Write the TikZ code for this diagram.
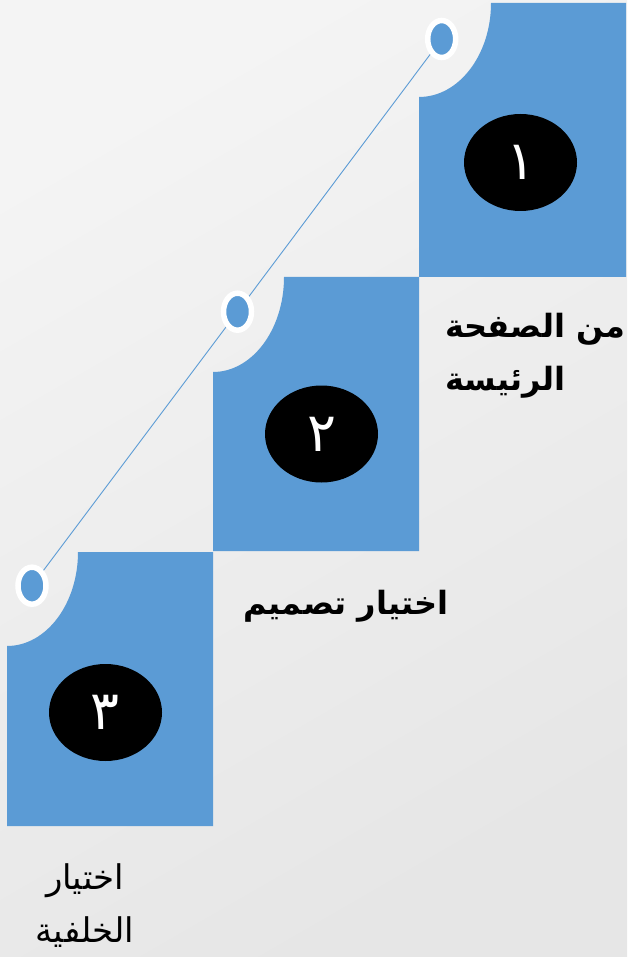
\documentclass[tikz,border=0pt]{standalone}
\usepackage{fontspec}
\usetikzlibrary{shapes.geometric}
\TeXXeTstate=1
\newfontfamily\arabicfont[Script=Arabic]{DejaVu Sans}
\definecolor{stepblue}{HTML}{5B9BD5}
\definecolor{bglight}{HTML}{F4F4F4}
\definecolor{bgdark}{HTML}{E6E6E6}
\tikzset{
  stepbox/.style={fill=stepblue},
  numblob/.style={ellipse, fill=black, minimum width=113pt, minimum height=97pt, inner sep=0pt, text=white, font=\arabicfont\fontsize{54}{60}\selectfont},
  ring/.style={ellipse, draw=white, line width=5.5pt, fill=stepblue, minimum width=28pt, minimum height=37pt, inner sep=0pt},
  link/.style={draw=stepblue, line width=0.9pt},
  labeltxt/.style={font=\arabicfont\fontsize{34}{53}\selectfont, inner sep=0pt},
  boldtxt/.style={font=\arabicfont\bfseries\fontsize{32}{53}\selectfont, inner sep=0pt}
}
\begin{document}
\begin{tikzpicture}[x=1pt,y=-1pt]
\useasboundingbox (0,0) rectangle (627,957);
\shade[top color=bglight, bottom color=bgdark, shading angle=30] (0,0) rectangle (627,957);
% step boxes with quarter-ellipse cut-outs
\fill[stepbox] (491,3) -- (626,3) -- (626,277) -- (419,277) -- (419,97)
  arc[start angle=270, end angle=360, x radius=72pt, y radius=94pt] -- cycle;
\fill[stepbox] (284,277) -- (419,277) -- (419,551) -- (213,551) -- (213,372)
  arc[start angle=270, end angle=360, x radius=71pt, y radius=95pt] -- cycle;
\fill[stepbox] (78,552) -- (213,552) -- (213,826) -- (7,826) -- (7,646)
  arc[start angle=270, end angle=360, x radius=71pt, y radius=94pt] -- cycle;
% connector line
\coordinate (p1) at (441.7,39);
\coordinate (p2) at (237.5,311.7);
\coordinate (p3) at (32,585.7);
\draw[link] (p1) -- (p2) -- (p3);
\node[ring] (c1) at (p1) {};
\node[ring] (c2) at (p2) {};
\node[ring] (c3) at (p3) {};
% numbered blobs
\node[numblob] (n1) at (520.5,162.5) {\beginR ١\endR};
\node[numblob] (n2) at (321.5,434) {\beginR ٢\endR};
\node[numblob] (n3) at (105.5,712.5) {\beginR ٣\endR};
% labels
\node[boldtxt, anchor=north west, align=left] (t1) at (445,313)
  {\beginR من الصفحة\endR\\\beginR الرئيسة\endR};
\node[boldtxt] (t2) at (346,606) {\beginR اختيار تصميم\endR};
\node[labeltxt, align=center, anchor=north] (t3) at (85,863)
  {\beginR اختيار\endR\\\beginR الخلفية\endR};
\end{tikzpicture}
\end{document}
